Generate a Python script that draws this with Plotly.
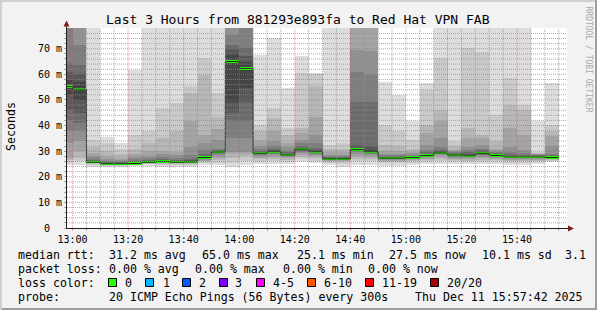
import plotly.graph_objects as go
import pandas as pd

# ---------------- data ----------------
day = "2025-12-11 "
slot_start = ["12:55", "13:00", "13:05", "13:10", "13:15", "13:20", "13:25", "13:30", "13:35",
              "13:40", "13:45", "13:50", "13:55", "14:00", "14:05", "14:10", "14:15", "14:20",
              "14:25", "14:30", "14:35", "14:40", "14:45", "14:50", "14:55", "15:00", "15:05",
              "15:10", "15:15", "15:20", "15:25", "15:30", "15:35", "15:40", "15:45", "15:50"]
slot_end = "15:55"

median_ms = [55.2, 54.2, 25.7, 25.1, 25.1, 25.2, 25.7, 26.0, 25.7, 25.8, 27.5, 29.7,
             65.0, 62.3, 29.2, 29.8, 28.5, 30.8, 29.8, 27.0, 27.0, 30.6, 29.8, 27.3,
             27.3, 27.5, 28.3, 29.3, 28.5, 28.2, 29.2, 28.3, 27.8, 27.8, 27.8, 27.5]

loss_count = [0, 0, 0, 0, 0, 0, 0, 0, 0, 0, 0, 0, 0, 0, 0, 0, 0, 0,
              0, 0, 0, 0, 0, 0, 0, 0, 0, 0, 0, 0, 0, 0, 0, 0, 0, 0]

# 20 sorted ping RTTs (ms) per 5-minute slot
smoke_ms = [
    [24.6, 25.5, 26.5, 27.4, 33.0, 38.0, 42.0, 46.0, 52.0, 55.0, 55.4, 58.0, 61.0, 64.4, 80.0, 90.0, 100.0, 110.0, 120.0, 130.0],
    [24.6, 26.0, 27.4, 30.0, 34.0, 38.0, 41.0, 45.0, 50.0, 54.0, 54.4, 57.0, 60.0, 63.7, 71.6, 85.0, 95.0, 105.0, 115.0, 130.0],
    [24.0, 24.6, 25.0, 25.2, 25.3, 25.4, 25.5, 25.6, 25.65, 25.7, 25.75, 25.9, 26.2, 26.6, 27.2, 28.0, 29.2, 31.5, 34.4, 90.0],
    [24.0, 24.3, 24.5, 24.7, 24.8, 24.9, 24.95, 25.0, 25.05, 25.1, 25.15, 25.2, 25.3, 25.6, 26.0, 26.8, 28.0, 30.0, 33.0, 35.7],
    [24.0, 24.3, 24.5, 24.7, 24.8, 24.9, 24.95, 25.0, 25.05, 25.1, 25.15, 25.2, 25.3, 25.6, 26.0, 26.5, 27.5, 29.0, 31.0, 33.0],
    [24.2, 24.5, 24.7, 24.9, 25.0, 25.05, 25.1, 25.15, 25.2, 25.2, 25.25, 25.4, 25.7, 26.1, 26.8, 27.8, 29.0, 31.0, 36.4, 61.8],
    [24.3, 24.8, 25.0, 25.2, 25.3, 25.4, 25.5, 25.6, 25.65, 25.7, 25.75, 25.9, 26.2, 26.6, 27.2, 28.2, 30.0, 33.0, 37.7, 90.0],
    [24.0, 24.6, 25.0, 25.3, 25.5, 25.7, 25.8, 25.9, 25.95, 26.0, 26.05, 26.2, 26.5, 27.0, 27.8, 28.8, 30.0, 35.0, 46.8, 90.0],
    [24.0, 24.6, 25.0, 25.2, 25.3, 25.4, 25.5, 25.6, 25.65, 25.7, 25.75, 25.9, 26.2, 26.7, 27.5, 28.5, 29.8, 37.7, 48.8, 90.0],
    [24.0, 24.6, 25.0, 25.2, 25.4, 25.5, 25.6, 25.7, 25.75, 25.8, 25.85, 26.0, 26.4, 27.0, 28.5, 31.8, 41.6, 52.7, 55.3, 90.0],
    [24.6, 25.2, 25.8, 26.3, 26.7, 27.0, 27.2, 27.3, 27.4, 27.5, 27.55, 27.8, 28.3, 29.0, 30.5, 33.0, 36.4, 59.8, 66.4, 90.0],
    [24.6, 25.5, 26.5, 27.5, 28.2, 28.8, 29.2, 29.4, 29.6, 29.7, 29.75, 29.9, 30.2, 30.6, 31.0, 34.4, 38.5, 43.5, 52.7, 90.0],
    [24.0, 25.3, 27.5, 29.0, 29.8, 35.0, 41.6, 45.0, 49.4, 64.8, 65.2, 68.0, 70.0, 71.6, 75.5, 85.0, 95.0, 105.0, 115.0, 130.0],
    [24.7, 26.0, 28.0, 29.0, 29.8, 35.0, 41.6, 49.4, 54.6, 62.1, 62.5, 65.0, 67.0, 70.3, 80.0, 90.0, 100.0, 110.0, 120.0, 130.0],
    [25.0, 25.8, 26.8, 27.5, 28.0, 28.5, 28.8, 29.0, 29.1, 29.15, 29.25, 29.4, 29.7, 30.1, 31.0, 32.0, 34.4, 38.0, 40.3, 67.7],
    [25.0, 26.0, 27.0, 27.8, 28.4, 28.9, 29.2, 29.5, 29.7, 29.75, 29.85, 30.0, 30.4, 31.0, 32.0, 34.0, 37.7, 43.0, 46.8, 74.2],
    [24.8, 25.6, 26.5, 27.2, 27.7, 28.0, 28.2, 28.3, 28.4, 28.45, 28.55, 28.7, 29.0, 29.5, 30.2, 31.5, 33.0, 36.5, 39.0, 54.6],
    [25.8, 26.8, 27.8, 28.6, 29.3, 29.8, 30.2, 30.5, 30.7, 30.75, 30.85, 31.0, 31.4, 32.0, 33.0, 34.5, 37.0, 39.0, 60.5, 67.0],
    [25.3, 26.3, 27.3, 28.0, 28.6, 29.0, 29.3, 29.5, 29.7, 29.75, 29.85, 30.0, 30.5, 31.2, 33.0, 36.4, 43.5, 55.3, 60.0, 60.5],
    [24.6, 25.3, 25.8, 26.2, 26.5, 26.7, 26.8, 26.9, 26.95, 26.95, 27.05, 27.2, 27.5, 27.8, 28.2, 28.5, 29.5, 31.0, 32.5, 95.0],
    [24.0, 25.0, 25.6, 26.1, 26.4, 26.6, 26.8, 26.9, 26.95, 26.95, 27.05, 27.2, 27.5, 27.8, 28.2, 28.5, 29.5, 31.0, 33.0, 95.0],
    [24.5, 26.0, 27.0, 28.0, 29.0, 29.5, 30.0, 30.3, 30.5, 30.55, 30.65, 31.0, 32.5, 49.4, 61.1, 69.6, 85.0, 95.0, 110.0, 130.0],
    [24.5, 26.0, 27.0, 27.8, 28.5, 29.0, 29.3, 29.5, 29.7, 29.75, 29.85, 30.1, 32.0, 49.4, 59.8, 69.0, 85.0, 95.0, 110.0, 130.0],
    [24.4, 25.2, 25.8, 26.3, 26.6, 26.9, 27.0, 27.1, 27.2, 27.25, 27.35, 27.5, 27.8, 28.1, 28.5, 29.0, 30.0, 32.5, 40.3, 57.2],
    [24.4, 25.2, 25.8, 26.3, 26.6, 26.9, 27.0, 27.1, 27.2, 27.25, 27.35, 27.5, 27.8, 28.1, 28.5, 29.0, 30.0, 32.0, 37.7, 52.0],
    [24.6, 25.4, 26.0, 26.5, 26.8, 27.0, 27.2, 27.3, 27.4, 27.45, 27.55, 27.7, 28.0, 28.3, 28.7, 29.2, 29.8, 31.0, 34.4, 41.6],
    [24.8, 25.6, 26.4, 27.0, 27.5, 27.8, 28.0, 28.1, 28.2, 28.25, 28.35, 28.5, 28.8, 29.5, 30.5, 32.5, 37.0, 40.3, 54.0, 56.6],
    [25.0, 26.0, 27.0, 27.8, 28.4, 28.8, 29.0, 29.1, 29.2, 29.25, 29.35, 29.5, 29.9, 30.5, 31.5, 35.0, 41.6, 46.1, 66.4, 95.0],
    [24.8, 25.6, 26.4, 27.0, 27.5, 27.9, 28.1, 28.3, 28.4, 28.45, 28.55, 28.7, 29.0, 29.4, 29.8, 30.2, 30.5, 32.0, 33.8, 95.0],
    [24.8, 25.6, 26.3, 26.9, 27.4, 27.7, 27.9, 28.0, 28.1, 28.15, 28.25, 28.4, 28.8, 29.5, 30.5, 31.5, 35.0, 39.0, 70.3, 95.0],
    [25.0, 25.8, 26.6, 27.3, 27.9, 28.4, 28.7, 28.9, 29.1, 29.15, 29.25, 29.4, 29.8, 30.4, 31.0, 32.5, 35.0, 36.4, 68.9, 95.0],
    [24.8, 25.6, 26.4, 27.0, 27.5, 27.8, 28.0, 28.1, 28.2, 28.25, 28.35, 28.5, 28.8, 29.2, 29.7, 30.2, 31.0, 33.8, 44.2, 95.0],
    [24.6, 25.4, 26.1, 26.6, 27.0, 27.3, 27.5, 27.6, 27.7, 27.75, 27.85, 28.0, 28.3, 28.8, 29.5, 31.5, 39.0, 48.1, 58.5, 95.0],
    [24.6, 25.4, 26.1, 26.6, 27.0, 27.3, 27.5, 27.6, 27.7, 27.75, 27.85, 28.0, 28.3, 28.7, 29.3, 30.5, 36.4, 46.0, 48.1, 95.0],
    [24.8, 25.6, 26.2, 26.7, 27.0, 27.3, 27.5, 27.6, 27.7, 27.75, 27.85, 28.0, 28.2, 28.4, 28.6, 28.8, 29.0, 29.3, 29.8, 41.6],
    [25.8, 26.2, 26.6, 26.9, 27.1, 27.2, 27.3, 27.4, 27.45, 27.45, 27.55, 27.7, 28.0, 28.5, 29.0, 32.0, 36.0, 38.0, 40.3, 56.6],
]

y_tick_vals = [0, 10, 20, 30, 40, 50, 60, 70]
y_tick_text = ["0\u00a0\u00a0", "10 m", "20 m", "30 m", "40 m", "50 m", "60 m", "70 m"]
x_tick_text = ["13:00", "13:20", "13:40", "14:00", "14:20", "14:40", "15:00", "15:20", "15:40"]

loss_labels = ["0", "1", "2", "3", "4-5", "6-10", "11-19", "20/20"]
loss_colors = ["#26ff00", "#00b8ff", "#0059ff", "#7e00ff", "#ff00ff", "#ff5500", "#ff0000", "#a10000"]

title_text = "Last 3 Hours from 881293e893fa to Red Hat VPN FAB"
rtt_stats = ["31.2 ms avg", "65.0 ms max", "25.1 ms min", "27.5 ms now", "10.1 ms sd", "3.1"]
loss_stats = ["0.00 % avg", "0.00 % max", "0.00 % min", "0.00 % now"]
probe_text = "20 ICMP Echo Pings (56 Bytes) every 300s"
stamp_text = "Thu Dec 11 15:57:42 2025"

# ---------------- figure ----------------
W, H = 597, 310
L, T, PW, PH = 67, 28, 500, 200
STEP_MS = 300000
MONO = "DejaVu Sans Mono"

def px(x):
    return (x - L) / PW

def py(y):
    return (T + PH - y) / PH

xs = [day + s for s in slot_start]
fig = go.Figure()

pings = len(smoke_ms[0])
half = pings // 2
for k in range(half):
    g = int(190 / half * (half - (k + 1))) + 50
    col = "#%02x%02x%02x" % (g, g, g)
    lo = [s[k] for s in smoke_ms]
    hi = [s[pings - 1 - k] for s in smoke_ms]
    fig.add_trace(go.Bar(x=xs, base=lo, y=[h - l for h, l in zip(hi, lo)],
                         width=STEP_MS, offset=0, marker=dict(color=col, line=dict(width=0)),
                         hoverinfo="skip"))

fig.add_trace(go.Scatter(x=xs + [day + slot_end], y=median_ms + [median_ms[-1]],
                         mode="lines", line=dict(color="#202020", width=1, shape="hv"),
                         hoverinfo="skip"))

band = 0.9
fig.add_trace(go.Bar(x=xs, base=[m - band / 2 for m in median_ms], y=[band] * len(median_ms),
                     width=STEP_MS, offset=0,
                     marker=dict(color=[loss_colors[c] for c in loss_count], line=dict(width=0)),
                     hoverinfo="skip"))

GRID = "rgba(143,143,143,0.75)"
MGRID = "rgba(222,79,79,0.6)"

major_t = pd.date_range(day + "13:00", day + "15:40", freq="20min")
minor_t = [t for t in pd.date_range(day + "13:00", day + "15:55", freq="5min") if t not in set(major_t)]

shapes = []
for t in minor_t:
    shapes.append(dict(type="line", xref="x", yref="paper", x0=t, x1=t, y0=0, y1=1,
                       line=dict(color=GRID, width=1, dash="1px,1px"), layer="above"))
for v in range(2, 78, 2):
    if v % 10:
        shapes.append(dict(type="line", xref="paper", yref="y", x0=0, x1=1, y0=v, y1=v,
                           line=dict(color=GRID, width=1, dash="1px,1px"), layer="above"))
for t in major_t:
    shapes.append(dict(type="line", xref="x", yref="paper", x0=t, x1=t, y0=0, y1=1,
                       line=dict(color=MGRID, width=1, dash="1px,1px"), layer="above"))
for v in y_tick_vals[1:]:
    shapes.append(dict(type="line", xref="paper", yref="y", x0=0, x1=1, y0=v, y1=v,
                       line=dict(color=MGRID, width=1, dash="1px,1px"), layer="above"))

AX = "#1f1f1f"
ARROW = "#801f1f"
# axis extensions and arrows
shapes.append(dict(type="line", xref="paper", yref="paper", x0=px(66.5), x1=px(66.5),
                   y0=1, y1=py(24), line=dict(color=AX, width=1)))
shapes.append(dict(type="path", xref="paper", yref="paper",
                   path="M %f %f L %f %f L %f %f Z" % (px(63.5), py(26.5), px(69.5), py(26.5), px(66.5), py(20.5)),
                   fillcolor=ARROW, line=dict(width=0)))
shapes.append(dict(type="line", xref="paper", yref="paper", x0=1, x1=px(570),
                   y0=py(228.5), y1=py(228.5), line=dict(color=AX, width=1)))
shapes.append(dict(type="path", xref="paper", yref="paper",
                   path="M %f %f L %f %f L %f %f Z" % (px(568), py(225.5), px(568), py(231.5), px(574), py(228.5)),
                   fillcolor=ARROW, line=dict(width=0)))

# image frame shading
shapes.append(dict(type="rect", xref="paper", yref="paper", x0=px(0), x1=px(W), y0=py(0), y1=py(2),
                   fillcolor="#cfcfcf", line=dict(width=0)))
shapes.append(dict(type="rect", xref="paper", yref="paper", x0=px(0), x1=px(2), y0=py(0), y1=py(H),
                   fillcolor="#cfcfcf", line=dict(width=0)))
shapes.append(dict(type="rect", xref="paper", yref="paper", x0=px(W - 2), x1=px(W), y0=py(0), y1=py(H),
                   fillcolor="#9e9e9e", line=dict(width=0)))
shapes.append(dict(type="rect", xref="paper", yref="paper", x0=px(2), x1=px(W), y0=py(H - 2), y1=py(H),
                   fillcolor="#9e9e9e", line=dict(width=0)))

# loss colour boxes
box_x = [108.5, 145.5, 182.5, 219.5, 256.5, 307.5, 365.5, 430.5]
lab_x = [123.3, 160.7, 196.7, 233.3, 270.7, 321.7, 380.0, 445.0]
for bx, c in zip(box_x, loss_colors):
    shapes.append(dict(type="rect", xref="paper", yref="paper", x0=px(bx), x1=px(bx + 8),
                       y0=py(278.5), y1=py(286.5), fillcolor=c, line=dict(color="#000000", width=1)))

ann = []
def text(x, y, s, size=11.6, anchor="left", angle=0, color="#000000"):
    ann.append(dict(x=px(x), y=py(y), xref="paper", yref="paper", text=s, showarrow=False,
                    xanchor=anchor, yanchor="middle", textangle=angle,
                    font=dict(family=MONO, size=size, color=color)))

text(297.5, 19, title_text, size=13, anchor="center")
text(10.5, 126.5, "Seconds", size=11.6, anchor="center", angle=-90)
text(588.5, 59, "RRDTOOL / TOBI OETIKER", size=8, anchor="center", angle=90, color="#a8a8a8")

y1, y2, y3, y4 = 254.5, 268.5, 282.5, 296.5
text(16, y1, "median rtt:")
for x, s in zip([106.7, 200.0, 294.7, 386.7, 480.0, 563.3], rtt_stats):
    text(x, y1, s)
text(16, y2, "packet loss:")
for x, s in zip([106.7, 193.3, 280.5, 365.7], loss_stats):
    text(x, y2, s)
text(16, y3, "loss color:")
for x, s in zip(lab_x, loss_labels):
    text(x, y3, s)
text(16, y4, "probe:")
text(107.3, y4, probe_text)
text(413.3, y4, stamp_text)

fig.update_layout(
    width=W, height=H,
    margin=dict(l=L, r=W - L - PW, t=T, b=H - T - PH, pad=0),
    paper_bgcolor="#f2f2f2", plot_bgcolor="#ffffff",
    barmode="overlay", bargap=0, showlegend=False,
    font=dict(family=MONO, size=10, color="#000000"),
    shapes=shapes, annotations=ann,
    xaxis=dict(type="date", range=[day + "12:58", day + "15:58"],
               tickvals=list(major_t), ticktext=x_tick_text,
               showgrid=False, zeroline=False, showline=True, linecolor=AX, linewidth=1,
               ticks="outside", ticklen=2, tickcolor=MGRID, tickfont=dict(family=MONO, size=10),
               minor=dict(tickvals=minor_t, ticks="outside", ticklen=2, tickcolor=GRID, showgrid=False),
               fixedrange=True),
    yaxis=dict(range=[0, 78.1], tickvals=y_tick_vals, ticktext=y_tick_text,
               showgrid=False, zeroline=False, showline=True, linecolor=AX, linewidth=1,
               ticks="outside", ticklen=2, tickcolor=MGRID, tickfont=dict(family=MONO, size=10),
               minor=dict(tickvals=[v for v in range(2, 78, 2) if v % 10], ticks="outside",
                          ticklen=2, tickcolor=GRID, showgrid=False),
               fixedrange=True),
)

fig.write_html("out.html")
